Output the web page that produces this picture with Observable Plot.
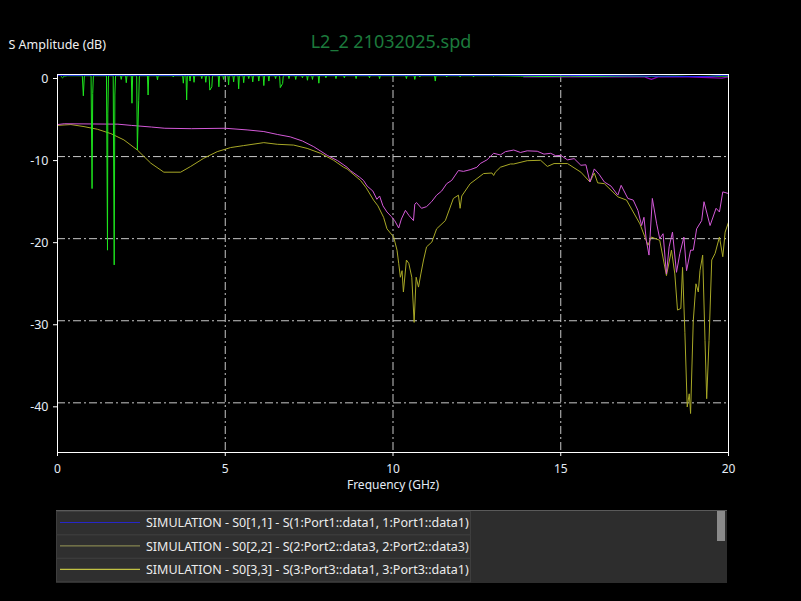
<!DOCTYPE html>
<html>
<head>
<meta charset="utf-8">
<script src="https://cdn.jsdelivr.net/npm/d3@7"></script>
<script src="https://cdn.jsdelivr.net/npm/@observablehq/plot@0.6"></script>
<style>
  html, body { margin: 0; padding: 0; background: #000; width: 801px; height: 601px; overflow: hidden; }
  #chart { position: absolute; left: 0; top: 0; }
  #legend { position: absolute; left: 56px; top: 510px; }
</style>
</head>
<body>
<div id="chart"></div>
<div id="legend"></div>
<script>
// ---- Data ----
const chartTitle = "L2_2 21032025.spd";
const yLabel = "S Amplitude (dB)";
const xLabel = "Frequency (GHz)";
const xTicks = [0, 5, 10, 15, 20];
const yTicks = [0, -10, -20, -30, -40];
const xGrid = [5, 10, 15];
const yGrid = [-10, -20, -30, -40];

// magenta trace
const magFreq = [0,0.2,1.8,2.2,2.8,3.2,4.0,5.0,5.65,6.15,6.55,6.94,7.3,7.64,8.04,8.35,8.63,8.73,9.0,9.12,9.23,9.4,9.52,9.6,9.7,9.82,9.95,10.05,10.17,10.25,10.37,10.48,10.61,10.65,10.7,10.85,11.0,11.15,11.3,11.45,11.6,11.75,11.95,12.1,12.3,12.5,12.6,12.8,13.0,13.2,13.35,13.6,13.8,14.0,14.3,14.5,14.7,14.85,15.0,15.2,15.4,15.6,15.75,15.87,16.0,16.15,16.3,16.5,16.7,16.8,17.0,17.16,17.3,17.41,17.48,17.55,17.63,17.73,17.86,17.95,18.05,18.15,18.23,18.33,18.45,18.55,18.67,18.75,18.87,18.95,19.05,19.2,19.27,19.45,19.63,19.73,19.83,20.0];
const magDb = [-6.1,-6.0,-6.05,-6.2,-6.4,-6.55,-6.6,-6.55,-6.75,-6.95,-7.3,-7.6,-8.1,-8.8,-9.85,-10.5,-11.3,-11.7,-12.5,-12.9,-13.6,-14.2,-15.2,-14.8,-16.0,-16.75,-17.3,-17.8,-18.7,-17.6,-16.55,-17.2,-17.8,-15.8,-15.6,-16.3,-16.1,-15.5,-14.7,-14.2,-13.3,-12.9,-11.7,-11.8,-11.6,-11.3,-10.85,-10.4,-9.6,-9.8,-9.4,-9.2,-9.5,-9.3,-9.35,-9.7,-9.6,-9.9,-9.85,-10.4,-10.25,-11.06,-11.0,-13.1,-11.5,-12.2,-13.1,-13.6,-14.7,-13.5,-15.1,-15.3,-16.55,-18.4,-17.4,-20.2,-22.0,-15.1,-18.2,-20.0,-19.4,-24.3,-21.0,-19.2,-24.1,-21.8,-19.8,-23.9,-21.4,-21.4,-18.8,-17.8,-15.5,-18.4,-16.3,-16.75,-14.3,-14.5];

// olive trace
const oliveFreq = [0,0.4,0.79,1.19,1.59,1.98,2.38,2.78,3.17,3.67,3.97,4.36,4.76,5.16,5.55,6.15,6.55,7.04,7.44,7.84,8.23,8.53,8.63,9.03,9.2,9.42,9.55,9.72,9.82,10.02,10.12,10.17,10.22,10.27,10.31,10.4,10.47,10.56,10.63,10.69,10.76,10.83,10.91,11.0,11.16,11.3,11.56,11.8,11.95,12.0,12.05,12.3,12.7,12.95,13.0,13.05,13.2,13.5,13.6,14.0,14.4,14.6,14.8,15.2,15.6,15.87,16.0,16.1,16.3,16.7,16.96,17.36,17.6,17.7,17.95,18.15,18.3,18.4,18.48,18.58,18.63,18.7,18.77,18.83,18.87,18.95,19.03,19.1,19.15,19.23,19.3,19.35,19.42,19.5,19.6,19.73,19.83,19.9,20.0];
const oliveDb = [-6.2,-6.1,-6.35,-6.67,-7.2,-7.97,-9.2,-10.8,-11.9,-11.9,-11.2,-10.2,-9.4,-8.9,-8.66,-8.3,-8.5,-8.6,-9.0,-9.6,-10.45,-11.3,-11.5,-12.9,-13.8,-15.3,-16.0,-17.4,-18.8,-19.8,-21.4,-23.0,-24.7,-23.9,-26.5,-22.6,-23.0,-24.7,-30.2,-24.7,-25.9,-24.3,-22.6,-21.0,-20.4,-18.8,-17.8,-15.1,-14.7,-16.3,-14.8,-13.3,-12.07,-12.0,-12.3,-11.9,-11.3,-10.9,-10.9,-10.5,-10.45,-11.2,-10.85,-10.85,-11.9,-13.1,-12.0,-13.2,-13.3,-14.9,-15.3,-18.2,-20.8,-19.8,-20.2,-24.5,-21.4,-24.3,-28.7,-28.5,-23.5,-31.4,-40.5,-38.9,-41.3,-30.0,-25.5,-26.5,-23.9,-22.0,-32.4,-39.5,-32.4,-22.6,-21.8,-19.8,-22.2,-19.2,-18.0];

// green trace (near 0 dB with sharp dips)
const greenFreq = [0.1,0.15,0.2,0.3,0.74,0.77,0.8,1.0,1.03,1.05,1.07,1.46,1.49,1.5,1.52,1.66,1.69,1.71,1.73,1.88,1.9,1.92,2.03,2.05,2.07,2.2,2.22,2.24,2.36,2.38,2.42,2.44,2.68,2.7,2.72,2.96,2.98,3.0,3.43,3.45,3.47,3.73,3.75,3.77,3.83,3.85,3.87,3.93,3.95,3.97,4.05,4.07,4.09,4.28,4.3,4.32,4.4,4.42,4.44,4.52,4.54,4.6,4.62,4.79,4.81,4.83,4.93,4.95,4.97,5.08,5.1,5.12,5.23,5.25,5.27,5.38,5.4,5.42,5.53,5.55,5.57,5.68,5.7,5.72,5.8,5.82,5.84,5.98,6.0,6.02,6.13,6.15,6.17,6.28,6.3,6.32,6.48,6.5,6.52,6.62,6.64,6.71,6.73,6.88,6.9,6.92,7.08,7.1,7.12,7.28,7.3,7.32,7.43,7.45,7.47,7.58,7.6,7.62,7.77,7.79,7.81,7.98,8.0,8.02,8.28,8.3,8.32,8.53,8.55,8.57,8.88,8.9,8.92,9.28,9.3,9.32,9.58,9.6,9.62,9.98,10.0,10.02,10.38,10.4,10.42,10.63,10.65,10.67,10.78,10.8,10.82,11.24,11.26,11.28,11.58,11.6,11.62,11.98,12.0,12.02,12.38,12.4,12.42,12.98,13.0,13.02,13.8,14.5,15.3,16.2,17.0,17.7,18.4,19.0,19.6,20.0];
const greenDb = [-0.2,-0.4,-0.2,-0.15,-0.15,-2.6,-0.15,-0.15,-13.9,-2.3,-0.15,-0.15,-21.4,-4.7,-0.15,-0.15,-23.2,-2.5,-0.15,-0.15,-0.6,-0.15,-0.15,-1.0,-0.15,-0.15,-3.5,-0.15,-0.15,-9.2,-3.2,-0.15,-0.15,-2.5,-0.15,-0.15,-0.65,-0.15,-0.15,-0.3,-0.15,-0.15,-1.06,-0.15,-0.15,-3.1,-0.15,-0.15,-0.8,-0.15,-0.15,-0.95,-0.15,-0.15,-0.5,-0.15,-0.15,-0.95,-0.15,-0.15,-1.9,-1.5,-0.15,-0.15,-1.5,-0.15,-0.15,-0.6,-0.15,-0.15,-1.26,-0.15,-0.15,-0.9,-0.15,-0.15,-1.75,-0.15,-0.15,-1.0,-0.15,-0.15,-0.5,-0.15,-0.15,-0.9,-0.15,-0.15,-0.8,-0.15,-0.15,-1.35,-0.15,-0.15,-0.8,-0.15,-0.15,-0.5,-0.15,-0.15,-1.6,-1.1,-0.15,-0.15,-0.5,-0.15,-0.15,-0.6,-0.15,-0.15,-0.4,-0.15,-0.15,-0.7,-0.15,-0.15,-0.6,-0.15,-0.15,-1.06,-0.15,-0.15,-0.4,-0.15,-0.15,-0.5,-0.15,-0.15,-0.4,-0.15,-0.15,-0.5,-0.15,-0.15,-0.4,-0.15,-0.15,-0.5,-0.15,-0.15,-0.3,-0.15,-0.15,-0.5,-0.15,-0.15,-0.6,-0.15,-0.15,-0.3,-0.15,-0.15,-0.8,-0.15,-0.15,-0.3,-0.15,-0.15,-0.3,-0.15,-0.15,-0.3,-0.15,-0.15,-0.25,-0.15,-0.2,-0.25,-0.2,-0.25,-0.2,-0.25,-0.2,-0.25,-0.2,-0.2];

// purple trace (near 0 dB on the right)
const purpleFreq = [13.9,14.5,15.5,16.5,17.5,17.7,17.9,18.8,19.8,20.0];
const purpleDb = [-0.3,-0.28,-0.28,-0.3,-0.3,-0.6,-0.3,-0.3,-0.45,-0.3];

// blue trace (S0[1,1])
const blueFreq = [0,5,10,15,19.0,19.4,19.8,20.0];
const blueDb = [-0.1,-0.1,-0.1,-0.1,-0.25,-0.25,-0.1,-0.1];

const legendLabels = [
  "SIMULATION - S0[1,1] - S(1:Port1::data1, 1:Port1::data1)",
  "SIMULATION - S0[2,2] - S(2:Port2::data3, 2:Port2::data3)",
  "SIMULATION - S0[3,3] - S(3:Port3::data1, 3:Port3::data1)"
];
const legendColors = ["#2626c8", "#9a9a58", "#e6e64a"];

// ---- build tables ----
const toRows = (fs, vs) => fs.map((f, i) => ({f, v: vs[i]}));
const mag = toRows(magFreq, magDb);
const olive = toRows(oliveFreq, oliveDb);
const green = toRows(greenFreq, greenDb);
const purple = toRows(purpleFreq, purpleDb);
const blue = toRows(blueFreq, blueDb);

const gridColor = "#c8c8c8";
const dash = "8,3,2,3";
const font = "'Noto Sans', 'Open Sans', sans-serif";

const plot = Plot.plot({
  width: 801,
  height: 500,
  marginLeft: 57,
  marginRight: 73,
  marginTop: 74,
  marginBottom: 48,
  style: {background: "#000", color: "#e4ecf6", fontFamily: font, fontSize: "12px"},
  x: {domain: [0, 20]},
  y: {domain: [-46.05, 0]},
  marks: [
    Plot.ruleX(xGrid, {stroke: gridColor, strokeDasharray: dash, strokeWidth: 1}),
    Plot.ruleY(yGrid, {stroke: gridColor, strokeDasharray: dash, strokeWidth: 1}),
    Plot.axisX({ticks: xTicks, tickSize: 4, tickPadding: 8, stroke: "#fff", tickFormat: d => String(d), label: null, fontSize: 12}),
    Plot.axisY({ticks: yTicks, tickSize: 4, tickPadding: 5, stroke: "#fff", tickFormat: d => String(d), label: null, dy: 4, fontSize: 12.5}),
    Plot.line(olive, {x: "f", y: "v", stroke: "#a8a826", strokeWidth: 1}),
    Plot.line(mag, {x: "f", y: "v", stroke: "#d45ad8", strokeWidth: 1}),
    Plot.line(purple, {x: "f", y: "v", stroke: "#8c00b4", strokeWidth: 1.3}),
    Plot.line(green, {x: "f", y: "v", stroke: "#1ee61e", strokeWidth: 1}),
    Plot.line(blue, {x: "f", y: "v", stroke: "#2020ff", strokeWidth: 1}),
    Plot.frame({stroke: "#fff", strokeWidth: 1}),
    Plot.text([yLabel], {text: d => d, frameAnchor: "top-left", dx: -49, dy: -34, textAnchor: "start", fill: "#f0f0f0", fontSize: 12.5}),
    Plot.text([chartTitle], {text: d => d, frameAnchor: "top", dx: -2, dy: -39, fill: "#1c7a3c", fontSize: 18}),
    Plot.text([xLabel], {text: d => d, frameAnchor: "bottom", dx: 0, dy: 36, fill: "#e4ecf6", fontSize: 12})
  ]
});
document.getElementById("chart").appendChild(plot);

// ---- legend ----
const lw = 671, lh = 73, rowH = 23.4;
const svg = d3.select("#legend").append("svg")
  .attr("width", lw).attr("height", lh)
  .style("display", "block")
  .style("font-family", font);
svg.append("rect").attr("width", lw).attr("height", lh).attr("fill", "#2d2d2d");
svg.append("line").attr("x1", 0).attr("x2", lw).attr("y1", 0.5).attr("y2", 0.5).attr("stroke", "#5a5a5a");
const rows = svg.selectAll("g.row").data(legendLabels).join("g")
  .attr("transform", (d, i) => `translate(0, ${1 + i * rowH})`);
rows.append("rect").attr("x", 0.5).attr("y", 0.5).attr("width", 414).attr("height", rowH)
  .attr("fill", "#2f2f2f").attr("stroke", "#3e3e3e");
rows.append("line").attr("x1", 4).attr("x2", 84).attr("y1", 11.5).attr("y2", 11.5)
  .attr("stroke", (d, i) => legendColors[i]).attr("stroke-width", 1);
rows.append("text").attr("x", 90).attr("y", 12).attr("dy", "0.35em")
  .attr("fill", "#ececec").attr("font-size", 12.5).text(d => d);
svg.append("rect").attr("x", 661).attr("y", 1).attr("width", 8).attr("height", 30).attr("fill", "#8a8a8a");
</script>
</body>
</html>
